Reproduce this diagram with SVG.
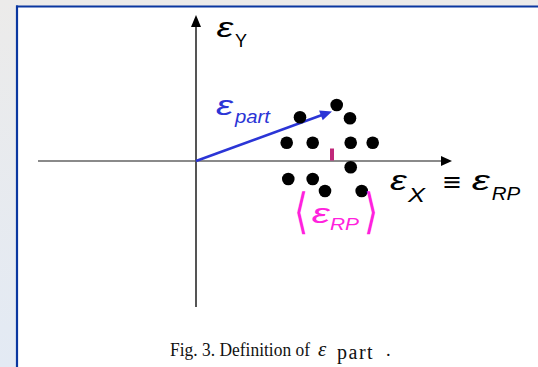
<svg xmlns="http://www.w3.org/2000/svg" width="538" height="367" viewBox="0 0 538 367">
<style>
.eps{font-family:"Liberation Sans",Arial,sans-serif;font-style:italic;font-size:27px}
.sub{font-family:"Liberation Sans",Arial,sans-serif;font-style:italic}
.up{font-family:"Liberation Sans",Arial,sans-serif}
.dot{fill:#000}
.cap{font-family:"Liberation Serif","Times New Roman",serif;font-size:18.5px;fill:#111}
.br{font-family:"DejaVu Sans",sans-serif;font-size:26px;fill:#ff22dd}
</style>
<defs>
<linearGradient id="bg" x1="0" y1="0" x2="0" y2="1">
<stop offset="0" stop-color="#ecebea"/>
<stop offset="1" stop-color="#e3eaf4"/>
</linearGradient>
</defs>
<rect x="0" y="0" width="538" height="367" fill="url(#bg)"/>
<rect x="17" y="6.5" width="521" height="361" fill="#ffffff"/>
<g id="frame" stroke="#0a37a0" stroke-width="2.2" fill="none">
<line x1="17" y1="5.4" x2="17" y2="367"/>
<line x1="16" y1="6.5" x2="538" y2="6.5"/>
</g>
<g id="connectors">
<line x1="38" y1="161" x2="443" y2="161" stroke="#8a8a8a" stroke-width="2"/>
<polygon points="452,161 441,156 441,166" fill="#000"/>
<line x1="196" y1="307" x2="196" y2="26" stroke="#555" stroke-width="2"/>
<polygon points="196,15 191,27 201,27" fill="#000"/>
<line x1="196" y1="161" x2="322" y2="115" stroke="#2b35d6" stroke-width="2.6"/>
<polygon points="332,111.5 319.1,110.4 322.7,120.3" fill="#2b35d6"/>
</g>
<g id="dots">
<circle class="dot" cx="336.7" cy="105" r="6.3"/>
<circle class="dot" cx="350" cy="118.3" r="6.3"/>
<circle class="dot" cx="300" cy="117.3" r="6.3"/>
<circle class="dot" cx="286.7" cy="142.7" r="6.3"/>
<circle class="dot" cx="312.7" cy="142.7" r="6.3"/>
<circle class="dot" cx="350.7" cy="142.7" r="6.3"/>
<circle class="dot" cx="372.7" cy="142.7" r="6.3"/>
<circle class="dot" cx="350.7" cy="167.3" r="6.3"/>
<circle class="dot" cx="288.3" cy="179" r="6.3"/>
<circle class="dot" cx="312.7" cy="179" r="6.3"/>
<circle class="dot" cx="325" cy="191" r="6.3"/>
<circle class="dot" cx="361.7" cy="191" r="6.3"/>
</g>
<rect id="mean-mark" x="330" y="148.5" width="4" height="12" fill="#c0287a"/>
<g id="label-ey">
<text class="eps" x="216.5" y="36.7" textLength="16.7" lengthAdjust="spacingAndGlyphs">ε</text>
<text class="up" x="235" y="46.7" font-size="18.5" textLength="12" lengthAdjust="spacingAndGlyphs">Y</text>
</g>
<g id="label-epart" fill="#2b35d6">
<text class="eps" x="216" y="115" textLength="17" lengthAdjust="spacingAndGlyphs">ε</text>
<text class="sub" x="235" y="122.7" font-size="19" textLength="35" lengthAdjust="spacingAndGlyphs">part</text>
</g>
<g id="label-ex">
<text class="eps" x="390" y="190" textLength="16.7" lengthAdjust="spacingAndGlyphs">ε</text>
<text class="sub" x="408" y="201.7" font-size="20.5" textLength="17" lengthAdjust="spacingAndGlyphs">X</text>
<text x="441.7" y="189.5" font-family="DejaVu Sans,sans-serif" font-size="24" textLength="20" lengthAdjust="spacingAndGlyphs">≡</text>
<text class="eps" x="471.7" y="190" textLength="18" lengthAdjust="spacingAndGlyphs">ε</text>
<text class="sub" x="491.7" y="200" font-size="18.5" textLength="28.5" lengthAdjust="spacingAndGlyphs">RP</text>
</g>
<g id="label-erp" fill="#ff22dd">
<text class="br" x="210" y="123.5" transform="scale(1.4,1.85)">⟨</text>
<text class="eps" x="311.7" y="223.3" textLength="18" lengthAdjust="spacingAndGlyphs">ε</text>
<text class="sub" x="330" y="230" font-size="17" textLength="29" lengthAdjust="spacingAndGlyphs">RP</text>
<text class="br" x="260" y="123.5" transform="scale(1.4,1.85)">⟩</text>
</g>
<g id="caption">
<text class="cap" y="355.5"><tspan x="170" textLength="140" lengthAdjust="spacingAndGlyphs">Fig. 3. Definition of</tspan><tspan x="318" font-style="italic" font-size="21">ε</tspan><tspan x="337" dy="3" font-size="20" letter-spacing="1.5">part</tspan><tspan x="386" dy="-3">.</tspan></text>
</g>
</svg>
